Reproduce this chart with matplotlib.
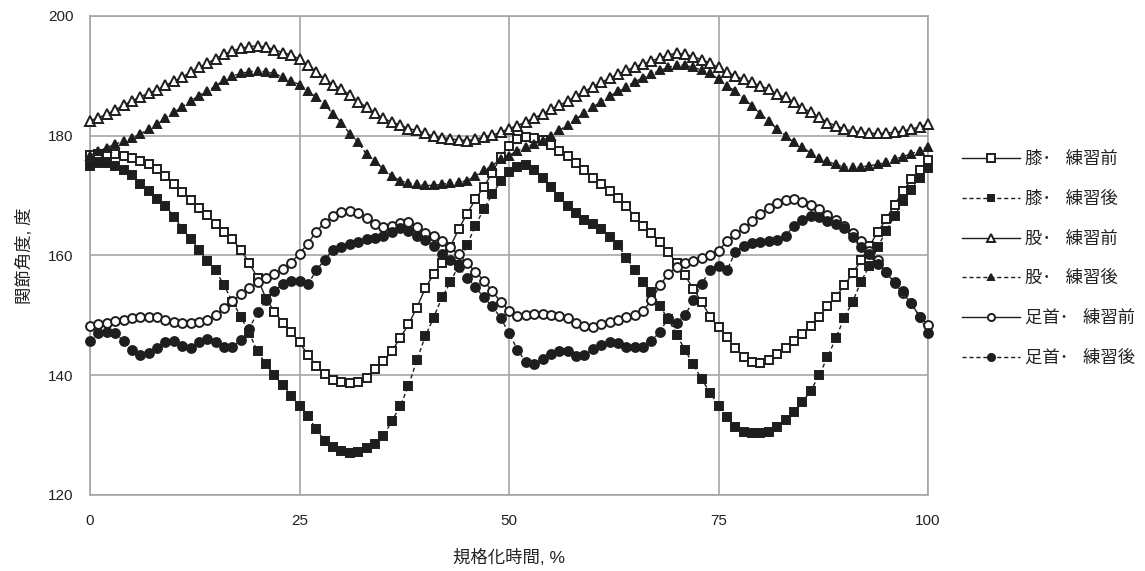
import matplotlib
matplotlib.use('Agg')
import matplotlib.pyplot as plt

plt.rcParams['font.family'] = ['Liberation Sans', 'Noto Sans CJK JP', 'DejaVu Sans']

X = list(range(101))

KNEE_PRE = [
    176.8, 177.0, 177.0, 176.9, 176.7, 176.3, 175.8, 175.2, 174.4, 173.3,
    172.0, 170.6, 169.2, 167.9, 166.8, 165.3, 164.0, 162.7, 160.9, 158.8,
    156.2, 152.8, 150.6, 148.8, 147.3, 145.5, 143.4, 141.6, 140.2, 139.2,
    138.8, 138.7, 138.9, 139.6, 141.0, 142.3, 144.0, 146.2, 148.5, 151.3,
    154.5, 156.9, 158.8, 161.5, 164.4, 167.0, 169.4, 171.5, 173.8, 176.5,
    178.3, 179.5, 179.8, 179.7, 179.3, 178.5, 177.5, 176.6, 175.5, 174.2,
    173.0, 172.0, 170.8, 169.6, 168.2, 166.5, 165.0, 163.8, 162.3, 160.6,
    158.7, 156.7, 154.4, 152.2, 149.8, 148.0, 146.4, 144.5, 143.0, 142.2,
    142.1, 142.6, 143.6, 144.6, 145.7, 146.9, 148.3, 149.8, 151.5, 153.1,
    155.0, 157.0, 159.2, 161.6, 163.9, 166.1, 168.5, 170.7, 172.7, 174.3,
    176.0]

KNEE_POST = [
    175.0, 175.4, 175.5, 175.0, 174.3, 173.4, 172.0, 170.8, 169.5, 168.3,
    166.5, 164.5, 162.8, 161.0, 159.0, 157.5, 155.0, 152.3, 149.8, 147.0,
    144.0, 141.8, 140.0, 138.3, 136.6, 134.8, 133.2, 131.0, 129.0, 128.0,
    127.3, 127.0, 127.2, 127.8, 128.6, 129.8, 132.3, 134.8, 138.2, 142.5,
    146.5, 149.6, 153.0, 155.5, 158.4, 161.8, 165.0, 167.8, 170.2, 172.4,
    173.9, 174.7, 175.1, 174.3, 173.0, 171.4, 169.7, 168.3, 167.1, 166.0,
    165.2, 164.4, 163.1, 161.8, 159.6, 157.6, 155.6, 153.9, 151.5, 149.4,
    146.8, 144.2, 141.8, 139.3, 137.1, 134.9, 133.0, 131.4, 130.5, 130.4,
    130.4, 130.5, 131.4, 132.5, 133.8, 135.5, 137.4, 140.0, 143.0, 146.2,
    149.6, 152.3, 155.6, 158.3, 161.4, 164.1, 166.6, 169.1, 171.0, 172.9,
    174.6]

HIP_PRE = [
    182.5, 183.0, 183.6, 184.3, 185.1, 185.8, 186.5, 187.1, 187.7, 188.4,
    189.1, 189.8, 190.6, 191.4, 192.1, 192.9, 193.6, 194.2, 194.6, 194.9,
    195.0, 194.8, 194.4, 193.9, 193.5, 192.8, 191.8, 190.7, 189.5, 188.5,
    187.8, 186.8, 185.7, 184.8, 183.8, 182.9, 182.3, 181.8, 181.2, 180.9,
    180.4, 179.9, 179.7, 179.5, 179.3, 179.2, 179.4, 179.8, 180.1, 180.6,
    181.2, 181.7, 182.3, 183.0, 183.6, 184.4, 185.1, 185.8, 186.6, 187.4,
    188.2, 188.9, 189.6, 190.3, 190.9, 191.5, 192.0, 192.5, 193.0, 193.5,
    193.8, 193.6, 193.2, 192.7, 192.1, 191.4, 190.6, 190.0, 189.4, 188.9,
    188.3, 187.8, 186.9, 186.4, 185.6, 184.7, 183.9, 183.1, 182.2, 181.7,
    181.1, 180.8, 180.6, 180.4, 180.4, 180.4, 180.6, 180.8, 181.1, 181.5,
    181.9]

HIP_POST = [
    176.7, 177.4, 178.0, 178.6, 179.1, 179.6, 180.3, 181.1, 181.9, 182.9,
    183.9, 184.8, 185.8, 186.7, 187.5, 188.3, 189.3, 190.0, 190.4, 190.7,
    190.8, 190.7, 190.4, 189.8, 189.2, 188.5, 187.5, 186.4, 185.3, 183.6,
    182.2, 180.3, 178.9, 176.9, 175.8, 174.4, 173.3, 172.5, 172.1, 171.9,
    171.7, 171.7, 171.9, 172.1, 172.2, 172.5, 173.3, 174.2, 175.0, 176.1,
    176.7, 177.5, 178.1, 178.6, 179.2, 180.0, 180.9, 181.8, 182.8, 183.8,
    184.8, 185.7, 186.6, 187.4, 188.2, 189.0, 189.7, 190.3, 190.9, 191.4,
    191.8, 191.8, 191.4, 191.0, 190.5, 189.4, 188.3, 187.5, 186.2, 185.0,
    183.7, 182.4, 181.1, 180.0, 178.9, 178.1, 177.1, 176.3, 175.7, 175.2,
    174.8, 174.7, 174.8, 175.0, 175.2, 175.6, 176.1, 176.5, 177.0, 177.5,
    178.2]

ANKLE_PRE = [
    148.3, 148.6, 148.8, 149.0, 149.2, 149.5, 149.7, 149.8, 149.7, 149.3,
    148.9, 148.7, 148.8, 148.9, 149.2, 150.0, 151.3, 152.4, 153.5, 154.5,
    155.5, 156.2, 156.9, 157.7, 158.8, 160.3, 162.0, 164.0, 165.5, 166.6,
    167.2, 167.4, 167.1, 166.2, 165.3, 164.8, 165.0, 165.4, 165.6, 164.8,
    163.8, 163.2, 162.5, 161.4, 160.2, 158.7, 157.3, 155.8, 154.0, 152.3,
    150.8, 149.9, 150.1, 150.2, 150.2, 150.1, 149.9, 149.6, 148.8, 148.2,
    148.0, 148.5, 148.9, 149.3, 149.7, 150.0, 150.8, 152.5, 155.0, 156.9,
    158.1, 158.8, 159.1, 159.6, 160.1, 160.8, 162.4, 163.6, 164.6, 165.7,
    167.0, 168.0, 168.8, 169.3, 169.4, 169.0, 168.4, 167.7, 166.8, 165.9,
    165.0, 163.8, 162.4, 160.7, 159.2, 157.2, 155.4, 153.7, 152.0, 149.8,
    148.4]

ANKLE_POST = [
    145.7, 147.0, 147.3, 147.0, 145.7, 144.3, 143.3, 143.7, 144.6, 145.6,
    145.7, 144.9, 144.6, 145.5, 146.0, 145.6, 144.8, 144.7, 145.9, 147.8,
    150.5, 152.5, 154.0, 155.3, 155.7, 155.7, 155.2, 157.5, 159.3, 161.0,
    161.5, 161.9, 162.3, 162.7, 163.0, 163.3, 164.0, 164.6, 164.1, 163.3,
    162.6, 161.6, 160.3, 159.3, 158.0, 156.3, 154.7, 153.0, 151.5, 149.6,
    147.0, 144.3, 142.2, 141.8, 142.7, 143.5, 144.0, 144.0, 143.2, 143.3,
    144.4, 145.0, 145.6, 145.4, 144.8, 144.7, 144.7, 145.8, 147.2, 149.6,
    148.8, 150.0, 152.5, 155.3, 157.5, 158.3, 157.5, 160.6, 161.6, 162.1,
    162.3, 162.4, 162.6, 163.3, 165.0, 166.0, 166.6, 166.4, 165.8, 165.2,
    164.6, 163.1, 161.5, 160.2, 158.5, 157.3, 155.6, 154.0, 152.0, 149.8,
    147.0]

LABELS = ['膝･   練習前', '膝･   練習後', '股･   練習前', '股･   練習後',
          '足首･   練習前', '足首･   練習後']

INK = '#1e1e1e'
GRID = '#a5a5a5'

fig = plt.figure(figsize=(11.45, 5.71), dpi=100)
ax = fig.add_axes([0.0786, 0.1331, 0.7319, 0.8389])

series = [
    (KNEE_PRE, 's', 'white', '-', 6.4),
    (KNEE_POST, 's', INK, '--', 6.2),
    (HIP_PRE, '^', 'white', '-', 6.6),
    (HIP_POST, '^', INK, '--', 6.2),
    (ANKLE_PRE, 'o', 'white', '-', 6.4),
    (ANKLE_POST, 'o', INK, '--', 6.4),
]

handles = []
for (ys, mk, face, ls, ms), lab in zip(series, LABELS):
    ln, = ax.plot(X, ys, color=INK, lw=1.0, ls=ls, marker=mk, ms=ms,
                  mfc=face, mec=INK, mew=1.4, label=lab, clip_on=False,
                  zorder=3)
    if ls == '--':
        ln.set_dashes((3, 2))
    handles.append(ln)

ax.set_xlim(0, 100)
ax.set_ylim(120, 200)
ax.set_xticks([0, 25, 50, 75, 100])
ax.set_yticks([120, 140, 160, 180, 200])
ax.grid(True, color=GRID, lw=1.2)
ax.set_axisbelow(True)
for s in ax.spines.values():
    s.set_color(GRID)
    s.set_linewidth(1.2)
ax.tick_params(length=0, labelsize=11, colors='#222222', pad=12)
ax.tick_params(axis='x', pad=14)

ax.set_xlabel('規格化時間, %', fontsize=12.5, color='#222222', labelpad=15)
ax.set_ylabel('関節角度, 度', fontsize=12.5, color='#222222', labelpad=11)

leg = fig.legend(handles=handles, labels=LABELS, loc='center left',
                 bbox_to_anchor=(0.833, 0.547), frameon=False, fontsize=12.5,
                 handlelength=3.3, handletextpad=0.3, labelspacing=1.36,
                 borderpad=0, numpoints=1, markerscale=0.8)
for t in leg.get_texts():
    t.set_color('#222222')

fig.savefig('out.png', dpi=100)
